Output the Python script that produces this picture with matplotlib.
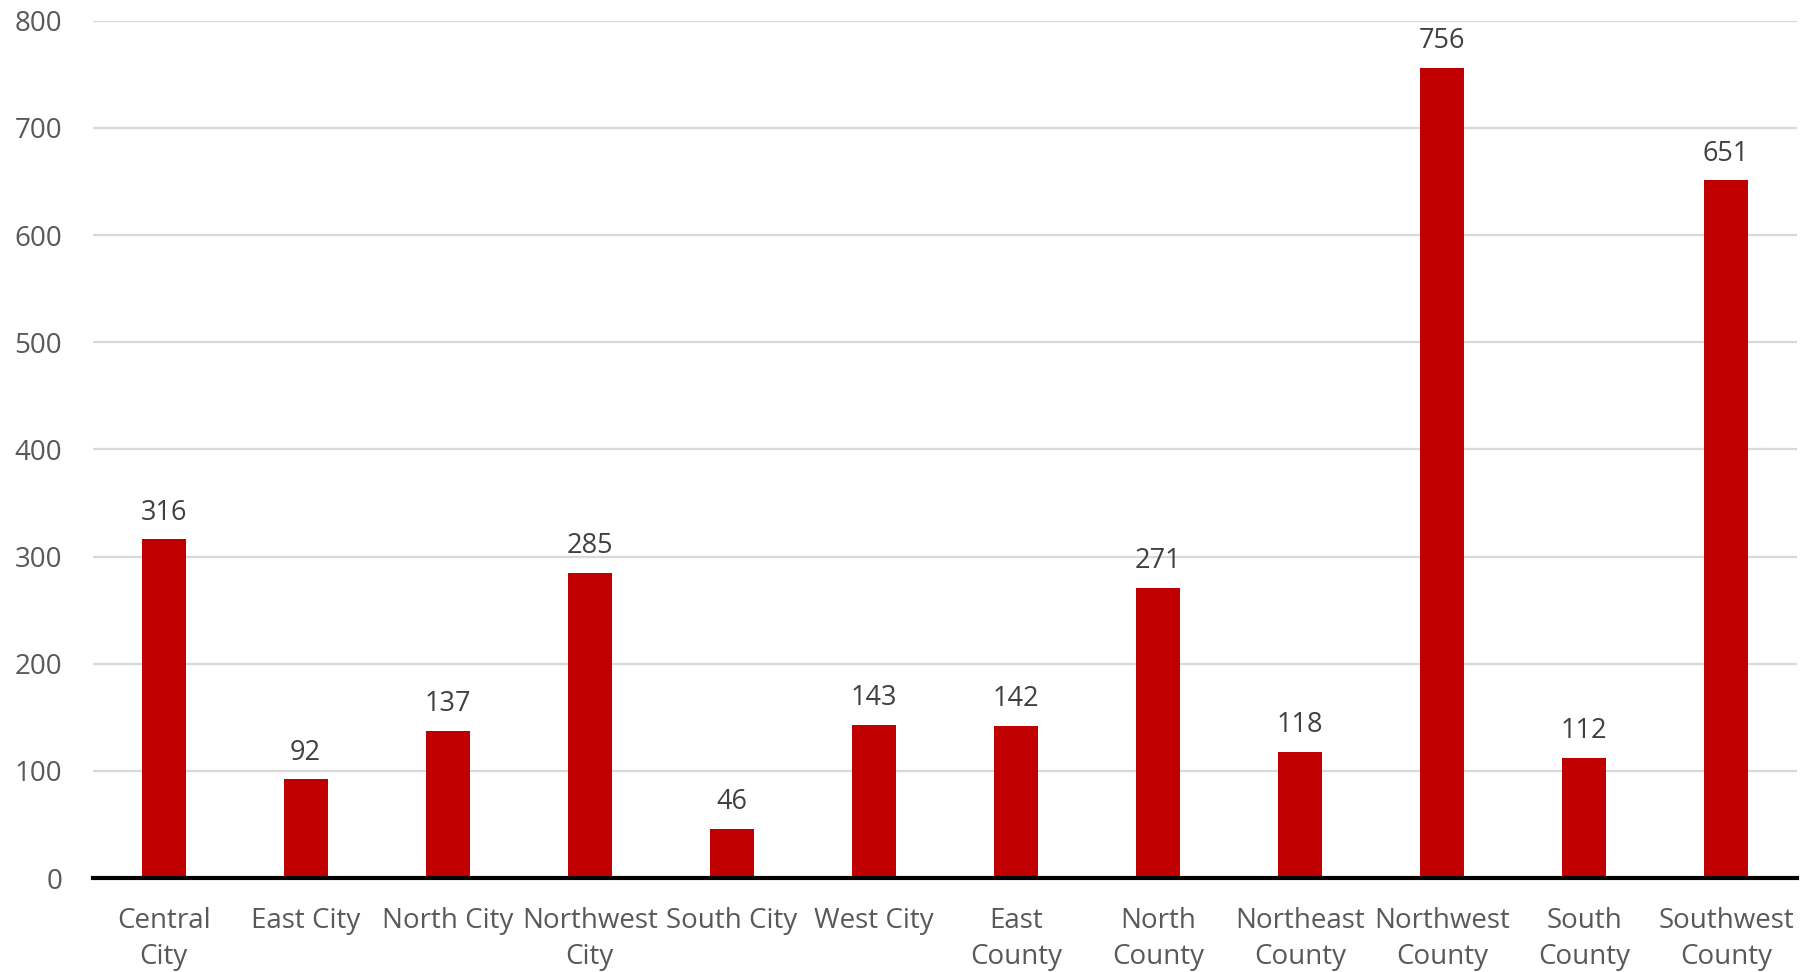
import matplotlib
matplotlib.use("Agg")
import matplotlib.pyplot as plt

categories = ["Central\nCity", "East City", "North City", "Northwest\nCity", "South City",
              "West City", "East\nCounty", "North\nCounty", "Northeast\nCounty",
              "Northwest\nCounty", "South\nCounty", "Southwest\nCounty"]
values = [316, 92, 137, 285, 46, 143, 142, 271, 118, 756, 112, 651]
yticks = [0, 100, 200, 300, 400, 500, 600, 700, 800]

plt.rcParams["font.family"] = ["Open Sans", "DejaVu Sans"]

fig = plt.figure(figsize=(18.16, 9.72), dpi=100)
ax = fig.add_axes([0.051, 0.0967, 0.9386, 0.8819])
x = range(len(values))
bars = ax.bar(x, values, width=0.31, color="#C00000", zorder=3)
for b, v in zip(bars, values):
    ax.text(b.get_x() + b.get_width() / 2, v + 12, str(v), ha="center", va="bottom",
            fontsize=19.5, color="#404040")

ax.set_xlim(-0.5, len(values) - 0.5)
ax.set_ylim(0, 800)
ax.set_yticks(yticks)
ax.set_yticklabels([str(t) for t in yticks], fontsize=20, color="#595959")
ax.set_xticks(list(x))
ax.set_xticklabels(categories, fontsize=20, color="#595959", linespacing=1.38)
ax.tick_params(axis="both", length=0)
ax.tick_params(axis="x", pad=21)
ax.tick_params(axis="y", pad=22)
ax.grid(axis="y", color="#D9D9D9", lw=1.6, zorder=0)
for s in ["top", "right", "left"]:
    ax.spines[s].set_visible(False)
ax.spines["bottom"].set_linewidth(3)
ax.spines["bottom"].set_color("black")
ax.spines["bottom"].set_zorder(4)

fig.savefig("out.png", dpi=100)
